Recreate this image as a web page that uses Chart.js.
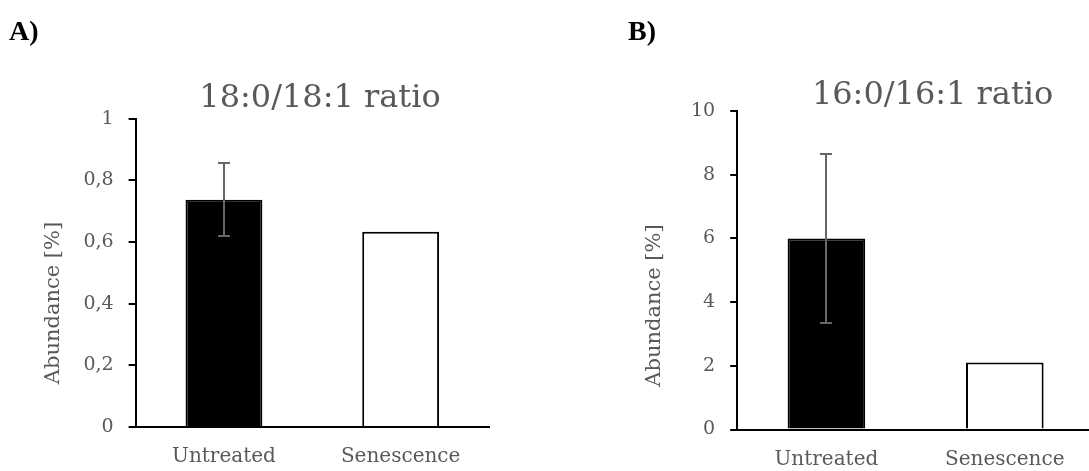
<!DOCTYPE html>
<html><head><meta charset="utf-8">
<script src="https://cdn.jsdelivr.net/npm/chart.js@4.4.1/dist/chart.umd.min.js"></script>
<style>
html,body{margin:0;padding:0;background:#fff;overflow:hidden;width:1089px;height:471px;position:relative;}
#wrapA{position:absolute;left:0;top:0;width:545px;height:471px;}
#wrapB{position:absolute;left:545px;top:0;width:560px;height:471px;}
canvas{display:block;}
</style></head><body>
<div id="wrapA"><canvas id="chartA" width="545" height="471"></canvas></div>
<div id="wrapB"><canvas id="chartB" width="560" height="471"></canvas></div>
<script>
// ---- data ----
const categories = ['Untreated', 'Senescence'];
const panelLabels = ['A)', 'B)'];
const chartTitles = ['18:0/18:1 ratio', '16:0/16:1 ratio'];
const yAxisTitle = 'Abundance [%]';

const valuesA = [0.737, 0.633];
const errorsA = [0.119, null];
const yTicksA = [0, 0.2, 0.4, 0.6, 0.8, 1];
const yTickLabelsA = ['0', '0,2', '0,4', '0,6', '0,8', '1'];

const valuesB = [6.0, 2.1];
const errorsB = [2.66, null];
const yTicksB = [0, 2, 4, 6, 8, 10];
const yTickLabelsB = ['0', '2', '4', '6', '8', '10'];

// ---- styles ----
const GRAY = '#595959';
const SERIF = '"DejaVu Serif", serif';

const decorPlugin = {
  id: 'decor',
  afterDatasetsDraw(chart, args, opts) {
    const ctx = chart.ctx;
    const ys = chart.scales.y;
    const meta = chart.getDatasetMeta(0);
    const data = chart.data.datasets[0].data;
    ctx.save();
    ctx.strokeStyle = opts.errorColor;
    ctx.lineWidth = 2;
    opts.errors.forEach((e, i) => {
      if (e == null) return;
      const el = meta.data[i];
      const x = Math.round(el.x);
      const yt = Math.round(ys.getPixelForValue(data[i] + e));
      const yb = Math.round(ys.getPixelForValue(data[i] - e));
      ctx.beginPath();
      ctx.moveTo(x, yt); ctx.lineTo(x, yb);
      ctx.moveTo(x - 6, yt); ctx.lineTo(x + 6, yt);
      ctx.moveTo(x - 6, yb); ctx.lineTo(x + 6, yb);
      ctx.stroke();
    });
    ctx.restore();
  },
  afterDraw(chart, args, opts) {
    const ctx = chart.ctx;
    const ca = chart.chartArea;
    ctx.save();
    // panel label
    ctx.fillStyle = '#000';
    ctx.font = 'bold 28px "Liberation Serif", serif';
    ctx.textAlign = 'left';
    ctx.textBaseline = 'alphabetic';
    ctx.fillText(opts.label, opts.labelX, opts.labelY);
    // title
    ctx.fillStyle = GRAY;
    ctx.font = '32px ' + SERIF;
    ctx.textAlign = 'center';
    ctx.fillText(opts.title, opts.titleX, opts.titleY);
    // y axis title
    ctx.font = '21px ' + SERIF;
    ctx.translate(ca.left - 77, ca.bottom - 124);
    ctx.rotate(-Math.PI / 2);
    ctx.textAlign = 'center';
    ctx.textBaseline = 'alphabetic';
    ctx.fillText(opts.yTitle, 0, 0);
    ctx.restore();
  }
};

function makeChart(id, values, errors, yTicks, yTickLabels, layout, decor) {
  return new Chart(document.getElementById(id), {
    type: 'bar',
    data: {
      labels: categories,
      datasets: [{
        data: values,
        backgroundColor: ['#000000', '#ffffff'],
        borderColor: ['#000000', '#000000'],
        borderWidth: 2,
        borderSkipped: 'start',
        categoryPercentage: 1,
        barPercentage: 0.435
      }]
    },
    options: {
      responsive: false,
      animation: false,
      devicePixelRatio: 1,
      layout: { padding: layout.padding },
      plugins: {
        legend: { display: false },
        title: { display: false },
        tooltip: { enabled: false },
        decor: Object.assign({ errors: errors, errorColor: '#666666', yTitle: yAxisTitle }, decor)
      },
      scales: {
        x: {
          offset: true,
          grid: { display: false, drawTicks: false },
          border: { display: true, color: '#000', width: 2 },
          ticks: { color: GRAY, font: { family: SERIF, size: 20 }, padding: 18, maxRotation: 0, autoSkip: false },
          afterFit(s) { s.height = layout.xHeight; s.paddingLeft = 0; s.paddingRight = 0; }
        },
        y: {
          min: yTicks[0],
          max: yTicks[yTicks.length - 1],
          grid: { display: true, drawOnChartArea: false, drawTicks: true, tickLength: 7, color: '#000', lineWidth: 2 },
          border: { display: true, color: '#000', width: 2 },
          afterBuildTicks(s) { s.ticks = yTicks.map(v => ({ value: v })); },
          ticks: {
            color: GRAY, font: { family: SERIF, size: 19 }, padding: 15,
            callback: (v, i) => yTickLabels[i]
          },
          afterFit(s) { s.width = layout.yWidth; s.paddingTop = 0; s.paddingBottom = 0; }
        }
      }
    },
    plugins: [decorPlugin]
  });
}

makeChart('chartA', valuesA, errorsA, yTicksA, yTickLabelsA,
  { padding: { left: 0, right: 56, top: 118.7, bottom: 0 }, xHeight: 44, yWidth: 135.6 },
  { label: panelLabels[0], labelX: 9, labelY: 40, title: chartTitles[0], titleX: 320, titleY: 107 });

makeChart('chartB', valuesB, errorsB, yTicksB, yTickLabelsB,
  { padding: { left: 0, right: 11, top: 111, bottom: 0 }, xHeight: 41.5, yWidth: 192.2 },
  { label: panelLabels[1], labelX: 83, labelY: 40, title: chartTitles[1], titleX: 387.6, titleY: 104 });
</script>
</body></html>
